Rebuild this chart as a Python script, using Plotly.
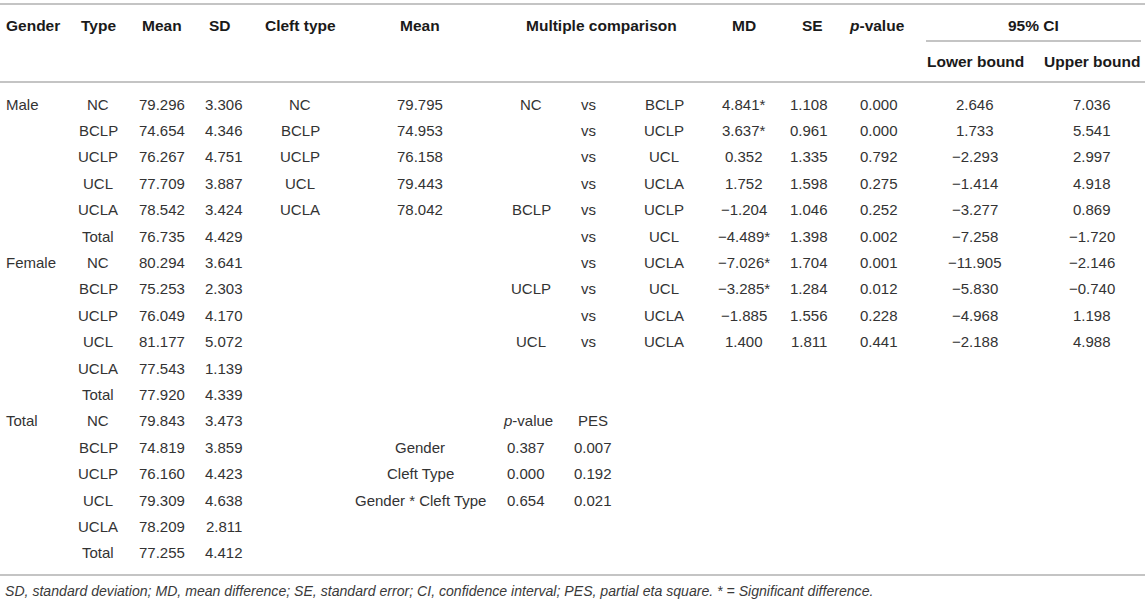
import plotly.graph_objects as go

genders = ["Male", "Female", "Total"]
types = ["NC", "BCLP", "UCLP", "UCL", "UCLA", "Total"]
mean = [79.296, 74.654, 76.267, 77.709, 78.542, 76.735,
        80.294, 75.253, 76.049, 81.177, 77.543, 77.920,
        79.843, 74.819, 76.160, 79.309, 78.209, 77.255]
sd = [3.306, 4.346, 4.751, 3.887, 3.424, 4.429,
      3.641, 2.303, 4.170, 5.072, 1.139, 4.339,
      3.473, 3.859, 4.423, 4.638, 2.811, 4.412]

cleft_types = ["NC", "BCLP", "UCLP", "UCL", "UCLA"]
cleft_mean = [79.795, 74.953, 76.158, 79.443, 78.042]

comp_a = ["NC", "", "", "", "BCLP", "", "", "UCLP", "", "UCL"]
comp_b = ["BCLP", "UCLP", "UCL", "UCLA", "UCLP", "UCL", "UCLA", "UCL", "UCLA", "UCLA"]
md = [4.841, 3.637, 0.352, 1.752, -1.204, -4.489, -7.026, -3.285, -1.885, 1.400]
md_sig = [True, True, False, False, False, True, True, True, False, False]
se = [1.108, 0.961, 1.335, 1.598, 1.046, 1.398, 1.704, 1.284, 1.556, 1.811]
pval = [0.000, 0.000, 0.792, 0.275, 0.252, 0.002, 0.001, 0.012, 0.228, 0.441]
ci_low = [2.646, 1.733, -2.293, -1.414, -3.277, -7.258, -11.905, -5.830, -4.968, -2.188]
ci_up = [7.036, 5.541, 2.997, 4.918, 0.869, -1.720, -2.146, -0.740, 1.198, 4.988]

effects = ["Gender", "Cleft Type", "Gender * Cleft Type"]
eff_p = [0.387, 0.000, 0.654]
eff_pes = [0.007, 0.192, 0.021]

footnote = ("SD, standard deviation; MD, mean difference; SE, standard error; "
            "CI, confidence interval; PES, partial eta square. * = Significant difference.")

# ---- layout constants ----
W, H = 1145, 603
ROW0, PITCH = 104, 26.4
HEAD_Y, SUB_Y = 25, 61
COL = dict(gender=4, type=98, mean=162, sd=224, cleft=300, cmean=420,
           a=531, vs=588, b=664, md=744, se=809, p=879, lo=975, hi=1092)
FONT = "Liberation Sans, Arial, sans-serif"
BODY = "#333333"
HEAD = "#1a1a1a"
LINE = "#c4c4c4"
BODY_SIZE = 15
HEAD_SIZE = 15.5


def fmt(v):
    return ("\u2212" if v < 0 else "") + f"{abs(v):.3f}"


def row_y(i):
    return ROW0 + PITCH * i


annotations = []


def add(x, y, text, bold=False, anchor="center", size=None, color=None):
    annotations.append(dict(
        x=x, y=y, xref="x", yref="y", text=f"<b>{text}</b>" if bold else text,
        showarrow=False, xanchor=anchor, yanchor="middle",
        font=dict(family=FONT, size=size or (HEAD_SIZE if bold else BODY_SIZE),
                  color=color or (HEAD if bold else BODY)),
    ))


# headers
add(COL["gender"], HEAD_Y, "Gender", bold=True, anchor="left")
add(COL["type"], HEAD_Y, "Type", bold=True)
add(COL["mean"], HEAD_Y, "Mean", bold=True)
add(COL["sd"] - 4, HEAD_Y, "SD", bold=True)
add(COL["cleft"], HEAD_Y, "Cleft type", bold=True)
add(COL["cmean"], HEAD_Y, "Mean", bold=True)
add(601, HEAD_Y, "Multiple comparison", bold=True)
add(COL["md"], HEAD_Y, "MD", bold=True)
add(COL["se"] + 3, HEAD_Y, "SE", bold=True)
add(COL["p"] - 2, HEAD_Y, "<i>p</i>-value", bold=True)
add(1033, HEAD_Y, "95% CI", bold=True)
add(COL["lo"], SUB_Y, "Lower bound", bold=True)
add(COL["hi"], SUB_Y, "Upper bound", bold=True)

# descriptive block
for g, name in enumerate(genders):
    add(COL["gender"], row_y(g * len(types)), name, anchor="left")
for i in range(len(mean)):
    add(COL["type"], row_y(i), types[i % len(types)])
    add(COL["mean"], row_y(i), f"{mean[i]:.3f}")
    add(COL["sd"], row_y(i), f"{sd[i]:.3f}")

# cleft type means
for i, (c, m) in enumerate(zip(cleft_types, cleft_mean)):
    add(COL["cleft"], row_y(i), c)
    add(COL["cmean"], row_y(i), f"{m:.3f}")

# pairwise comparisons
for i in range(len(comp_b)):
    y = row_y(i)
    if comp_a[i]:
        add(COL["a"], y, comp_a[i])
    add(COL["vs"], y, "vs")
    add(COL["b"], y, comp_b[i])
    add(COL["md"], y, fmt(md[i]) + ("*" if md_sig[i] else ""))
    add(COL["se"], y, fmt(se[i]))
    add(COL["p"], y, fmt(pval[i]))
    add(COL["lo"], y, fmt(ci_low[i]))
    add(COL["hi"], y, fmt(ci_up[i]))

# two-way ANOVA effects
add(COL["a"] - 3, row_y(12), "<i>p</i>-value")
add(COL["vs"] + 5, row_y(12), "PES")
for i, name in enumerate(effects):
    y = row_y(13 + i)
    add(COL["cmean"], y, name)
    add(COL["a"] - 5, y, fmt(eff_p[i]))
    add(COL["vs"] + 5, y, fmt(eff_pes[i]))

# footnote
add(3, 591, f"<i>{footnote}</i>", anchor="left", size=14.1, color="#3a3a3a")

shapes = [
    dict(type="line", x0=0, x1=W, y0=4, y1=4),
    dict(type="line", x0=926, x1=1141, y0=41, y1=41),
    dict(type="line", x0=0, x1=W, y0=82, y1=82),
    dict(type="line", x0=0, x1=W, y0=575, y1=575),
]
for s in shapes:
    s.update(xref="x", yref="y", line=dict(color=LINE, width=2), layer="below")

fig = go.Figure()
fig.update_layout(
    width=W, height=H,
    margin=dict(l=0, r=0, t=0, b=0),
    paper_bgcolor="white", plot_bgcolor="white",
    xaxis=dict(range=[0, W], visible=False, fixedrange=True),
    yaxis=dict(range=[H, 0], visible=False, fixedrange=True),
    annotations=annotations, shapes=shapes, showlegend=False,
)

fig.write_html("out.html", config={"displayModeBar": False},
               post_script="document.body.style.margin='0';document.body.style.overflow='hidden';")
